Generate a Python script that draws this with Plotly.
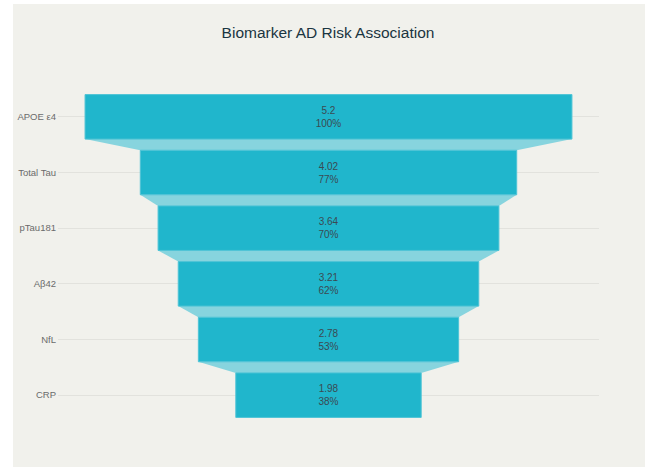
import plotly.graph_objects as go

categories = ["APOE ε4", "Total Tau", "pTau181", "Aβ42", "NfL", "CRP"]
values = [5.2, 4.02, 3.64, 3.21, 2.78, 1.98]

W, H = 645, 467
L, R, T, B = 58, 46, 89, 44
pw, ph = W - L - R, H - T - B

def px_to_paper_x(px):
    return (px - L) / pw

def px_to_paper_y(py):
    return (H - B - py) / ph

bg = "#f1f1ec"

fig = go.Figure(go.Funnel(
    y=categories,
    x=values,
    textinfo="value+percent initial",
    textposition="inside",
    textfont=dict(family="Liberation Sans, Arial, sans-serif", size=10, color="#3b4a52"),
    marker=dict(color="#20b6cc", line=dict(color="#4fc4d6", width=1)),
    connector=dict(fillcolor="#87d4de", line=dict(color="#87d4de", width=0)),
))

fig.update_layout(
    width=W, height=H,
    margin=dict(l=L, r=R, t=T, b=B),
    paper_bgcolor="white",
    plot_bgcolor=bg,
    title=dict(text="Biomarker AD Risk Association", x=328 / W, xanchor="center",
               y=1 - 33 / H, yanchor="middle", yref="container",
               font=dict(family="Liberation Sans, Arial, sans-serif", size=15.5, color="#1b3541")),
    showlegend=False,
    funnelgap=0.2,
    shapes=[dict(type="rect", xref="paper", yref="paper", layer="below",
                 x0=px_to_paper_x(13), x1=px_to_paper_x(W + 5),
                 y0=px_to_paper_y(H + 5), y1=px_to_paper_y(4),
                 fillcolor=bg, line=dict(width=0))],
)
fig.update_yaxes(showgrid=True, gridcolor="#e2e2dd", gridwidth=1,
                 tickfont=dict(family="Liberation Sans, Arial, sans-serif", size=9.5, color="#6b6b6b"),
                 ticks="", ticklabelstandoff=1)
fig.update_xaxes(showgrid=False, zeroline=False, showticklabels=False)

fig.write_html("out.html")
